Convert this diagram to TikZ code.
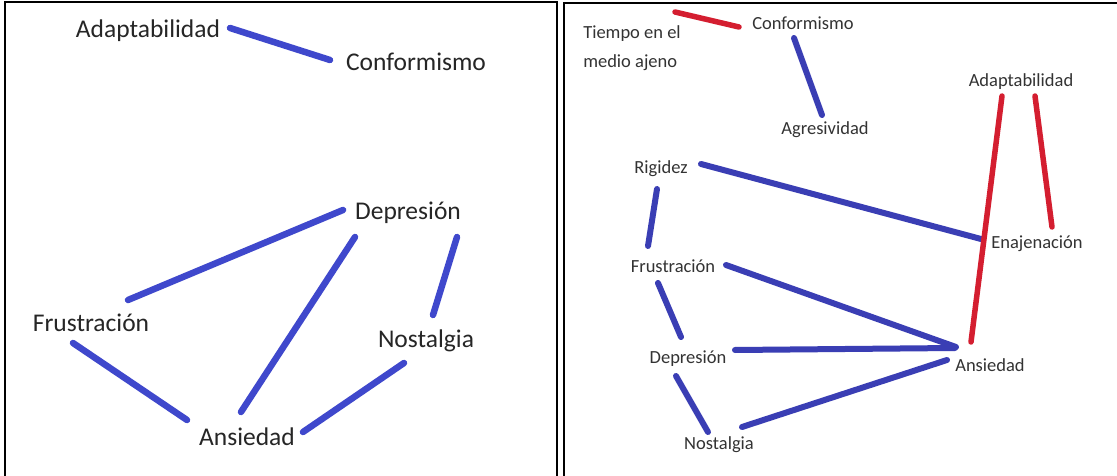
\documentclass[tikz,border=0pt]{standalone}
\usepackage{fontspec}
\setmainfont{Carlito}
\definecolor{lblue}{RGB}{63,72,204}
\definecolor{rblue}{RGB}{58,62,180}
\definecolor{rred}{RGB}{212,30,48}
\begin{document}
\begin{tikzpicture}[x=1pt,y=-1pt,
  lbl/.style={inner sep=0pt,font=\fontsize{25.5}{29}\selectfont,text=black!85},
  rlbl/.style={inner sep=0pt,font=\fontsize{18.5}{22}\selectfont,text=black!80},
  ledge/.style={line width=6.5pt,lblue,line cap=round},
  redge/.style={line width=6pt,rblue,line cap=round},
  rrededge/.style={line width=5.5pt,rred,line cap=round},
  frame/.style={line width=2pt,black}]
\useasboundingbox (0,0) rectangle (1117,476);
\fill[white] (0,0) rectangle (1117,476);
% frames
\draw[frame] (5,477) -- (5,2) -- (557,2) -- (557,477);
\draw[frame] (564,477) -- (564,3) -- (1118,3);
% ---------- left panel ----------
\node[lbl] (LAd) at (148,31) {Adaptabilidad};
\node[lbl] (LCo) at (416,62) {Conformismo};
\node[lbl] (LDe) at (408,213) {Depresión};
\node[lbl] (LFr) at (91,323) {Frustración};
\node[lbl] (LNo) at (426,341) {Nostalgia};
\node[lbl] (LAn) at (247,437) {Ansiedad};
\coordinate (a1) at (230,28);  \coordinate (a2) at (330,60);
\coordinate (b1) at (343,210); \coordinate (b2) at (128,300);
\coordinate (c1) at (355,237); \coordinate (c2) at (241,412);
\coordinate (d1) at (457,237); \coordinate (d2) at (433,315);
\coordinate (e1) at (73,343);  \coordinate (e2) at (187,420);
\coordinate (f1) at (404,363); \coordinate (f2) at (303,432);
\draw[ledge] (a1) -- (a2);
\draw[ledge] (b1) -- (b2);
\draw[ledge] (c1) -- (c2);
\draw[ledge] (d1) -- (d2);
\draw[ledge] (e1) -- (e2);
\draw[ledge] (f1) -- (f2);
% ---------- right panel ----------
\node[rlbl,align=left,font=\fontsize{18.5}{29}\selectfont] (RTi) at (632,48) {Tiempo en el\\medio ajeno};
\node[rlbl] (RCo) at (803,23) {Conformismo};
\node[rlbl] (RAg) at (825,130) {Agresividad};
\node[rlbl] (RAd) at (1021,82) {Adaptabilidad};
\node[rlbl] (RRi) at (661,169) {Rigidez};
\node[rlbl] (REn) at (1037,244) {Enajenación};
\node[rlbl] (RFr) at (673,266) {Frustración};
\node[rlbl] (RDe) at (688,359) {Depresión};
\node[rlbl] (RAn) at (990,365) {Ansiedad};
\node[rlbl] (RNo) at (719,445) {Nostalgia};
\coordinate (g1) at (675,12);  \coordinate (g2) at (739,27);
\coordinate (h1) at (794,38);  \coordinate (h2) at (822,115);
\coordinate (i1) at (1002,96); \coordinate (i2) at (971,342);
\coordinate (j1) at (1035,96); \coordinate (j2) at (1052,227);
\coordinate (k1) at (701,164); \coordinate (k2) at (981,239);
\coordinate (l1) at (657,189); \coordinate (l2) at (648,246);
\coordinate (m1) at (726,265); \coordinate (m2) at (956,347);
\coordinate (n1) at (658,283); \coordinate (n2) at (681,337);
\coordinate (o1) at (735,350); \coordinate (o2) at (955,348);
\coordinate (p1) at (676,376); \coordinate (p2) at (708,432);
\coordinate (q1) at (742,427); \coordinate (q2) at (947,360);
\draw[rrededge] (g1) -- (g2);
\draw[redge] (h1) -- (h2);
\draw[redge] (k1) -- (k2);
\draw[redge] (l1) -- (l2);
\draw[redge] (m1) -- (m2);
\draw[redge] (n1) -- (n2);
\draw[redge] (o1) -- (o2);
\draw[redge] (p1) -- (p2);
\draw[redge] (q1) -- (q2);
\draw[rrededge] (i1) -- (i2);
\draw[rrededge] (j1) -- (j2);
\end{tikzpicture}
\end{document}
